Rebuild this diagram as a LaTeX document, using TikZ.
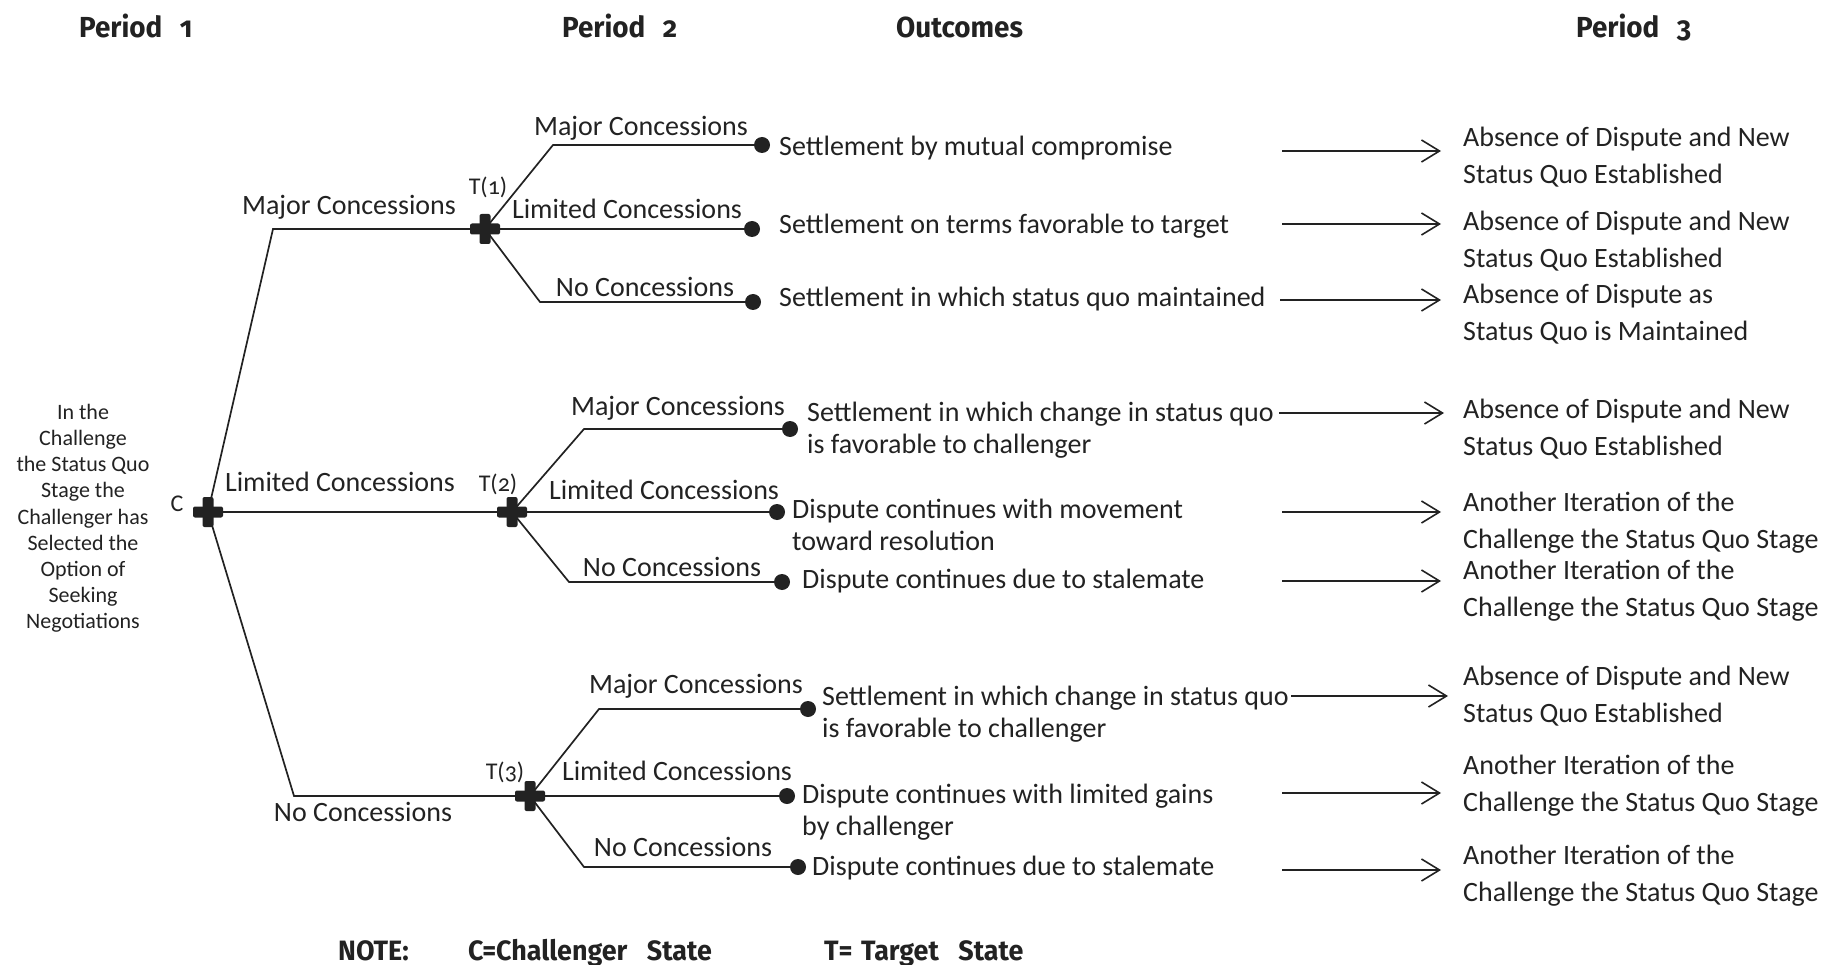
\documentclass[tikz,border=0pt]{standalone}
\usepackage{fontspec}
\setmainfont{Carlito}
\newfontfamily\headfont{Fira Sans}[FakeStretch=0.96,Numbers=OldStyle]
\newfontfamily\numfont{Carlito}[Numbers=OldStyle]
\usetikzlibrary{arrows.meta}
\definecolor{ink}{HTML}{222222}

% two-line text whose baseline is that of the first line
\newcommand{\twoline}[2]{\begin{tabular}[t]{@{}l@{}}#1\\#2\end{tabular}}

\begin{document}
\begin{tikzpicture}[x=1pt,y=-1pt,
  every node/.style={inner sep=0pt, text=ink},
  branch/.style={draw=ink, line width=1.7pt},
  junction/.style={rectangle, minimum size=30pt,
    path picture={
      \fill[ink, rounded corners=2pt]
        ([xshift=-15pt,yshift=-5.5pt]path picture bounding box.center) rectangle
        ([xshift=15pt,yshift=5.5pt]path picture bounding box.center);
      \fill[ink, rounded corners=2pt]
        ([xshift=-5.5pt,yshift=-15pt]path picture bounding box.center) rectangle
        ([xshift=5.5pt,yshift=15pt]path picture bounding box.center);}},
  endpt/.style={circle, fill=ink, minimum size=16pt},
  body/.style={yshift=-6pt},
  choice/.style={body, font=\fontsize{28}{32}\selectfont, anchor=mid},
  outcome/.style={body, font=\fontsize{28}{32}\selectfont, anchor=mid west},
  result/.style={body, font=\fontsize{28}{37}\selectfont, anchor=mid west},
  head/.style={font=\headfont\bfseries\fontsize{29}{34}\selectfont, anchor=base west},
  key/.style={head, font=\headfont\bfseries\fontsize{28}{32}\selectfont},
  tag/.style={body, font=\numfont\fontsize{24}{28}\selectfont, anchor=mid},
  lead/.style={draw=ink, line width=1.6pt, shorten >=22pt,
    -{Straight Barb[length=18pt,width=22pt]}}
]
\useasboundingbox (0,0) rectangle (1843,965);

% column headings
\node[head] (h1) at (79,38)   {Period\hspace{0.6em}1};
\node[head] (h2) at (562,38)  {Period\hspace{0.6em}2};
\node[head] (h3) at (896,38)  {Outcomes};
\node[head] (h4) at (1576,38) {Period\hspace{0.6em}3};

% starting condition
\node[body, anchor=mid, font=\fontsize{22}{26.2}\selectfont] (start) at (83,411)
  {\begin{tabular}[t]{@{}c@{}}In the\\Challenge\\the Status Quo\\Stage the\\
   Challenger has\\Selected the\\Option of\\Seeking\\Negotiations\end{tabular}};

% decision points
\node[junction] (C)  at (208,512) {};
\node[junction] (T1) at (485,229) {};
\node[junction] (T2) at (512,512) {};
\node[junction] (T3) at (530,796) {};
\node[tag] (lc)  at (177,503) {C};
\node[tag] (lt1) at (488,186) {T(1)};
\node[tag] (lt2) at (498,483) {T(2)};
\node[tag] (lt3) at (505,771) {T(3)};

% terminal points
\node[endpt] (e1) at (762,145) {};
\node[endpt] (e2) at (752,229) {};
\node[endpt] (e3) at (753,302) {};
\node[endpt] (e4) at (790,429) {};
\node[endpt] (e5) at (777,512) {};
\node[endpt] (e6) at (782,582) {};
\node[endpt] (e7) at (808,709) {};
\node[endpt] (e8) at (787,796) {};
\node[endpt] (e9) at (798,867) {};

% bends of the branches
\coordinate (cm) at (273,229);
\coordinate (cn) at (294,796);
\coordinate (k1) at (553,145);
\coordinate (k3) at (540,302);
\coordinate (k4) at (584,429);
\coordinate (k6) at (569,582);
\coordinate (k7) at (599,709);
\coordinate (k9) at (584,867);

% period 1 moves of the challenger
\draw[branch] (C.center) -- (cm) -- (T1.center);
\draw[branch] (C.center) -- (T2.center);
\draw[branch] (C.center) -- (cn) -- (T3.center);
% period 2 moves of the target
\draw[branch] (T1.center) -- (k1) -- (e1.center);
\draw[branch] (T1.center) -- (e2.center);
\draw[branch] (T1.center) -- (k3) -- (e3.center);
\draw[branch] (T2.center) -- (k4) -- (e4.center);
\draw[branch] (T2.center) -- (e5.center);
\draw[branch] (T2.center) -- (k6) -- (e6.center);
\draw[branch] (T3.center) -- (k7) -- (e7.center);
\draw[branch] (T3.center) -- (e8.center);
\draw[branch] (T3.center) -- (k9) -- (e9.center);

% branch labels
\node[choice] (b1) at (349,206) {Major Concessions};
\node[choice] (b2) at (340,483) {Limited Concessions};
\node[choice] (b3) at (363,813) {No Concessions};
\node[choice] (b11) at (641,127) {Major Concessions};
\node[choice] (b12) at (627,210) {Limited Concessions};
\node[choice] (b13) at (645,288) {No Concessions};
\node[choice] (b21) at (678,407) {Major Concessions};
\node[choice] (b22) at (664,491) {Limited Concessions};
\node[choice] (b23) at (672,568) {No Concessions};
\node[choice] (b31) at (696,685) {Major Concessions};
\node[choice] (b32) at (677,772) {Limited Concessions};
\node[choice] (b33) at (683,848) {No Concessions};

% outcomes
\node[outcome] (o1) at (779,147) {Settlement by mutual compromise};
\node[outcome] (o2) at (779,225) {Settlement on terms favorable to target};
\node[outcome] (o3) at (779,298) {Settlement in which status quo maintained};
\node[outcome] (o4) at (807,413) {\twoline{Settlement in which change in status quo}{is favorable to challenger}};
\node[outcome] (o5) at (792,510) {\twoline{Dispute continues with movement}{toward resolution}};
\node[outcome] (o6) at (802,580) {Dispute continues due to stalemate};
\node[outcome] (o7) at (822,697) {\twoline{Settlement in which change in status quo}{is favorable to challenger}};
\node[outcome] (o8) at (802,795) {\twoline{Dispute continues with limited gains}{by challenger}};
\node[outcome] (o9) at (812,867) {Dispute continues due to stalemate};

% period 3 results
\node[result] (r1) at (1463,138) {\twoline{Absence of Dispute and New}{Status Quo Established}};
\node[result] (r2) at (1463,222) {\twoline{Absence of Dispute and New}{Status Quo Established}};
\node[result] (r3) at (1463,295) {\twoline{Absence of Dispute as}{Status Quo is Maintained}};
\node[result] (r4) at (1463,410) {\twoline{Absence of Dispute and New}{Status Quo Established}};
\node[result] (r5) at (1463,503) {\twoline{Another Iteration of the}{Challenge the Status Quo Stage}};
\node[result] (r6) at (1463,571) {\twoline{Another Iteration of the}{Challenge the Status Quo Stage}};
\node[result] (r7) at (1463,677) {\twoline{Absence of Dispute and New}{Status Quo Established}};
\node[result] (r8) at (1463,766) {\twoline{Another Iteration of the}{Challenge the Status Quo Stage}};
\node[result] (r9) at (1463,856) {\twoline{Another Iteration of the}{Challenge the Status Quo Stage}};

% arrows from outcomes to results
\coordinate (s1) at (1282,151);
\coordinate (s2) at (1282,224);
\coordinate (s3) at (1280,300);
\coordinate (s4) at (1279,413);
\coordinate (s5) at (1282,512);
\coordinate (s6) at (1282,581);
\coordinate (s7) at (1291,696);
\coordinate (s8) at (1282,793);
\coordinate (s9) at (1282,870);
\draw[lead] (s1) -- (s1 -| r1.west);
\draw[lead] (s2) -- (s2 -| r2.west);
\draw[lead] (s3) -- (s3 -| r3.west);
\draw[lead] (s4) -- ([xshift=3pt]s4 -| r4.west);
\draw[lead] (s5) -- (s5 -| r5.west);
\draw[lead] (s6) -- (s6 -| r6.west);
\draw[lead] (s7) -- ([xshift=7pt]s7 -| r7.west);
\draw[lead] (s8) -- (s8 -| r8.west);
\draw[lead] (s9) -- (s9 -| r9.west);

% key
\node[key] (n0) at (338,960) {NOTE:};
\node[key] (n1) at (468,960) {C=Challenger\hspace{0.7em}State};
\node[key] (n2) at (824,960) {T=\hspace{0.3em}Target\hspace{0.7em}State};
\end{tikzpicture}
\end{document}
